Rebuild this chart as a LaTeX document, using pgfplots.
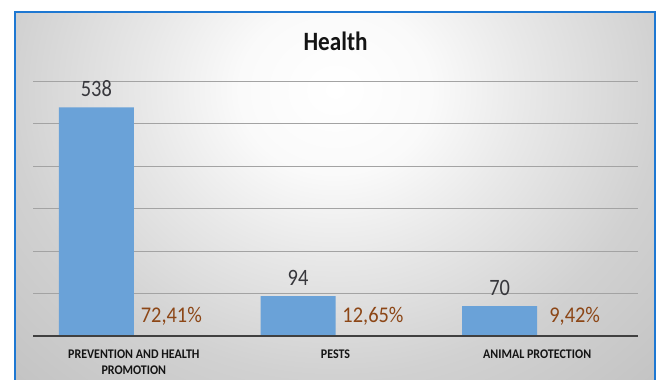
\documentclass[border=0pt]{standalone}
\usepackage{pgfplots}
\pgfplotsset{compat=1.18}
\usepackage{fontspec}
\setmainfont{Carlito}
\definecolor{barblue}{RGB}{106,162,216}
\definecolor{pctbrown}{RGB}{140,70,22}
\definecolor{lbl}{RGB}{55,55,60}
\definecolor{frameblue}{RGB}{30,120,210}
\pgfdeclareradialshading{bgshade}{\pgfpoint{0bp}{0bp}}{color(0bp)=(white); color(5bp)=(white!98!black); color(10bp)=(white!91!black); color(17bp)=(white!82!black); color(25bp)=(white!76!black); color(50bp)=(white!76!black)}
\begin{document}
\begin{tikzpicture}[x=1pt,y=1pt]
\useasboundingbox (0,0) rectangle (662,380);
\fill[white] (0,0) rectangle (662,380);
\begin{scope}
\clip (15,0) rectangle (655,368);
\shade[shading=bgshade] (335,290) ellipse (480 and 420);
\end{scope}
\draw[frameblue, line width=2] (15,-2) -- (15,368) -- (655,368) -- (655,-2);
\begin{axis}[
  at={(33pt,44pt)}, anchor=south west,
  scale only axis, width=605pt, height=255pt,
  xmin=-0.5, xmax=2.5, ymin=0, ymax=600,
  ytick={100,200,...,600}, yticklabels={},
  xtick={0,1,2},
  xticklabels={{PREVENTION AND HEALTH\\PROMOTION},{PESTS},{ANIMAL PROTECTION}},
  xticklabel style={font=\fontsize{12}{14.5}\selectfont\bfseries, align=center, text=black!92, yscale=1.1, yshift=-9pt},
  ymajorgrids, grid style={line width=0.9pt, color=black!36},
  axis line style={draw=none}, tick style={draw=none},
  /pgf/number format/assume math mode=true,
  clip=false,
]
\addplot[ybar, bar width=75pt, bar shift=-37.5pt, fill=barblue, draw=none,
  point meta=y, nodes near coords,
  nodes near coords style={font=\fontsize{20.4}{24}\selectfont, text=lbl, yscale=1.15, yshift=6pt, xshift=-37.5pt}]
  coordinates {(0,538) (1,94) (2,70)};
\addplot[ybar, bar width=75pt, bar shift=37.5pt, draw=none, fill=none,
  point meta=explicit,
  nodes near coords={\pgfmathprintnumber[fixed,fixed zerofill,precision=2,use comma]{\pgfplotspointmeta}\%},
  nodes near coords style={font=\fontsize{20.4}{24}\selectfont, text=pctbrown, yscale=1.1, yshift=6pt, xshift=37.5pt}]
  table[x=x, y=y, meta=p] {
x y p
0 0 72.41
1 0 12.65
2 0 9.42
};
\draw[line width=2.5pt, color=black!75] (axis cs:-0.5,0) -- (axis cs:2.5,0);
\end{axis}
\node[anchor=base, font=\fontsize{23.2}{28}\selectfont\bfseries, text=black!92, yscale=1.14] at (335.5,329) {Health};
\end{tikzpicture}
\end{document}
